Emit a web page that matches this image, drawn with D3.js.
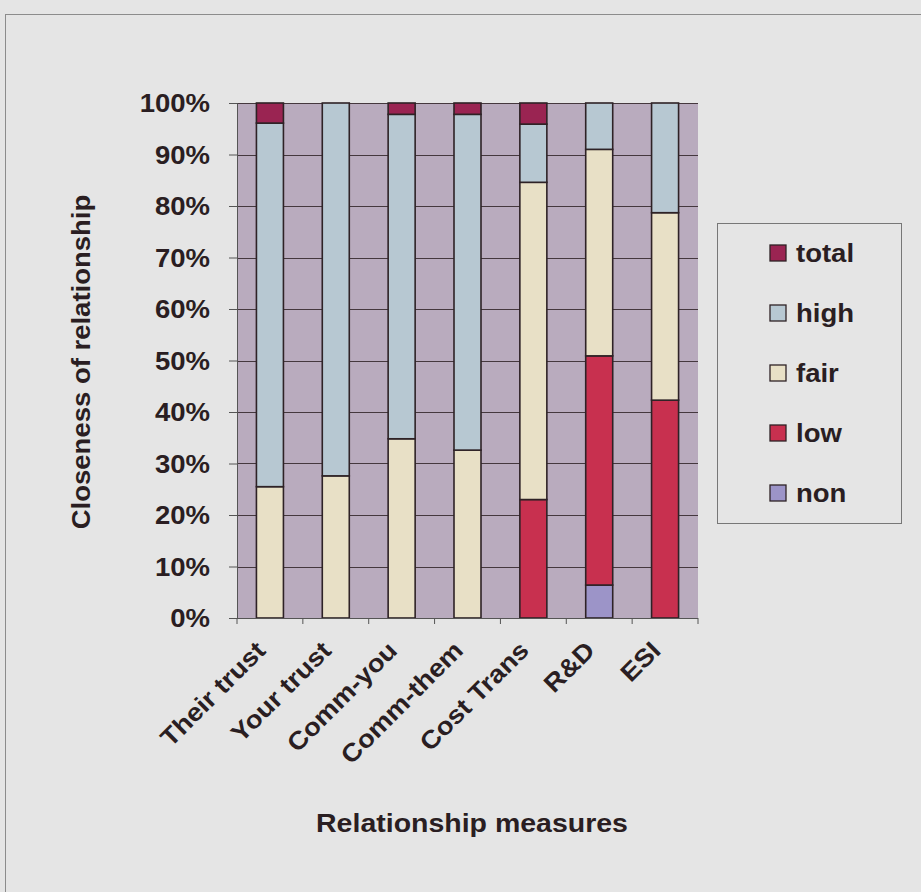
<!DOCTYPE html>
<html>
<head>
<meta charset="utf-8">
<script src="https://cdn.jsdelivr.net/npm/d3@7"></script>
<style>
  html, body { margin: 0; padding: 0; background: #e5e5e5; }
  svg { display: block; }
  text { font-family: "Liberation Sans", Arial, sans-serif; font-weight: bold; fill: #2a1e22; }
</style>
</head>
<body>
<svg id="chart" width="921" height="892"></svg>
<script>
// Categories along the x axis
const categories = ["Their trust", "Your trust", "Comm-you", "Comm-them", "Cost Trans", "R&D", "ESI"];

// Percentage share of each closeness level (stacked bottom to top: non, low, fair, high, total)
const nonValues   = [0,    0,    0,    0,    0,    6.4,  0];
const lowValues   = [0,    0,    0,    0,    23.0, 44.5, 42.3];
const fairValues  = [25.5, 27.6, 34.8, 32.6, 61.6, 40.1, 36.4];
const highValues  = [70.6, 72.4, 63.0, 65.2, 11.3, 9.0,  21.3];
const totalValues = [3.9,  0,    2.2,  2.2,  4.1,  0,    0];

const seriesKeys = ["non", "low", "fair", "high", "total"];
const legendOrder = ["total", "high", "fair", "low", "non"];
const yTicks = [0, 10, 20, 30, 40, 50, 60, 70, 80, 90, 100];

const colors = {
  total: "#9a2452",
  high:  "#b7c8d2",
  fair:  "#e8e0c6",
  low:   "#c8304f",
  non:   "#9c94c8"
};

const rows = categories.map((c, i) => ({
  category: c,
  non: nonValues[i], low: lowValues[i], fair: fairValues[i],
  high: highValues[i], total: totalValues[i]
}));

// Text is set in a slightly widened bold sans
const FONT = 25, STRETCH = 1.1;

const svg = d3.select("#chart");

// Outer frame
svg.append("rect").attr("x", 5.5).attr("y", 14.5).attr("width", 930).attr("height", 900)
  .attr("fill", "#e5e5e5").attr("stroke", "#8c8c8c").attr("stroke-width", 1);

const plot = { left: 237, right: 698, top: 103, bottom: 618 };

const x = d3.scaleBand().domain(categories)
  .range([plot.left, plot.right]).paddingInner(0.59).paddingOuter(0.295);
const y = d3.scaleLinear().domain([0, 100]).range([plot.bottom, plot.top]);

// Plot background
svg.append("rect").attr("x", plot.left).attr("y", plot.top)
  .attr("width", plot.right - plot.left).attr("height", plot.bottom - plot.top)
  .attr("fill", "#b9abbe");

// Horizontal gridlines
svg.append("g").selectAll("line").data(yTicks.filter(t => t > 0)).join("line")
  .attr("x1", plot.left).attr("x2", plot.right)
  .attr("y1", d => Math.round(y(d)) + 0.5).attr("y2", d => Math.round(y(d)) + 0.5)
  .attr("stroke", "#45383e").attr("stroke-width", 1.2);

// Stacked bars
const stacked = d3.stack().keys(seriesKeys)(rows);
const layers = svg.append("g").selectAll("g").data(stacked).join("g")
  .attr("fill", d => colors[d.key]);
layers.selectAll("rect").data(d => d.filter(s => s[1] - s[0] > 0)).join("rect")
  .attr("x", d => x(d.data.category))
  .attr("y", d => y(d[1]))
  .attr("width", x.bandwidth())
  .attr("height", d => y(d[0]) - y(d[1]))
  .attr("stroke", "#2e2226").attr("stroke-width", 1.6);

// Y axis (line and ticks from d3.axisLeft, labels widened separately)
const yAxis = svg.append("g").attr("transform", `translate(${plot.left},0)`)
  .call(d3.axisLeft(y).tickValues(yTicks).tickFormat("").tickSize(8));
yAxis.select(".domain").attr("stroke", "#555").attr("stroke-width", 1);
yAxis.selectAll(".tick line").attr("stroke", "#555");
svg.append("g").selectAll("text").data(yTicks).join("text")
  .attr("transform", d => `translate(210,${y(d)}) scale(${STRETCH},1)`)
  .attr("text-anchor", "end").attr("dy", "0.36em").attr("font-size", FONT)
  .text(d => d + "%");

// X axis with ticks at category boundaries
const step = x.step();
const boundaries = d3.range(categories.length + 1).map(i => plot.left + i * step);
const xAxis = svg.append("g");
xAxis.append("line").attr("x1", plot.left).attr("x2", plot.right)
  .attr("y1", plot.bottom + 0.5).attr("y2", plot.bottom + 0.5).attr("stroke", "#555");
xAxis.selectAll("line.tick").data(boundaries).join("line").attr("class", "tick")
  .attr("x1", d => d).attr("x2", d => d)
  .attr("y1", plot.bottom).attr("y2", plot.bottom + 6).attr("stroke", "#555");
xAxis.selectAll("text").data(categories).join("text")
  .attr("transform", d => `translate(${x(d) + x.bandwidth() / 2 - 3},${plot.bottom + 34}) rotate(-45) scale(${STRETCH},1)`)
  .attr("text-anchor", "end").attr("font-size", FONT)
  .text(d => d);

// Axis titles
svg.append("text").attr("transform", `translate(90,362) rotate(-90) scale(${STRETCH},1)`)
  .attr("text-anchor", "middle").attr("font-size", FONT).text("Closeness of relationship");
svg.append("text").attr("transform", `translate(472,832) scale(1.14,1)`)
  .attr("text-anchor", "middle").attr("font-size", FONT).text("Relationship measures");

// Legend
const legend = svg.append("g");
legend.append("rect").attr("x", 717.5).attr("y", 223.5).attr("width", 184).attr("height", 300)
  .attr("fill", "#e5e5e5").attr("stroke", "#777").attr("stroke-width", 1);
const items = legend.selectAll("g.item").data(legendOrder).join("g").attr("class", "item")
  .attr("transform", (d, i) => `translate(770,${253 + i * 60})`);
items.append("rect").attr("x", 0).attr("y", -8).attr("width", 16).attr("height", 16)
  .attr("fill", d => colors[d]).attr("stroke", "#2e2226").attr("stroke-width", 1.3);
items.append("text").attr("transform", `translate(26,0) scale(${STRETCH},1)`)
  .attr("dy", "0.36em").attr("font-size", FONT).text(d => d);
</script>
</body>
</html>
